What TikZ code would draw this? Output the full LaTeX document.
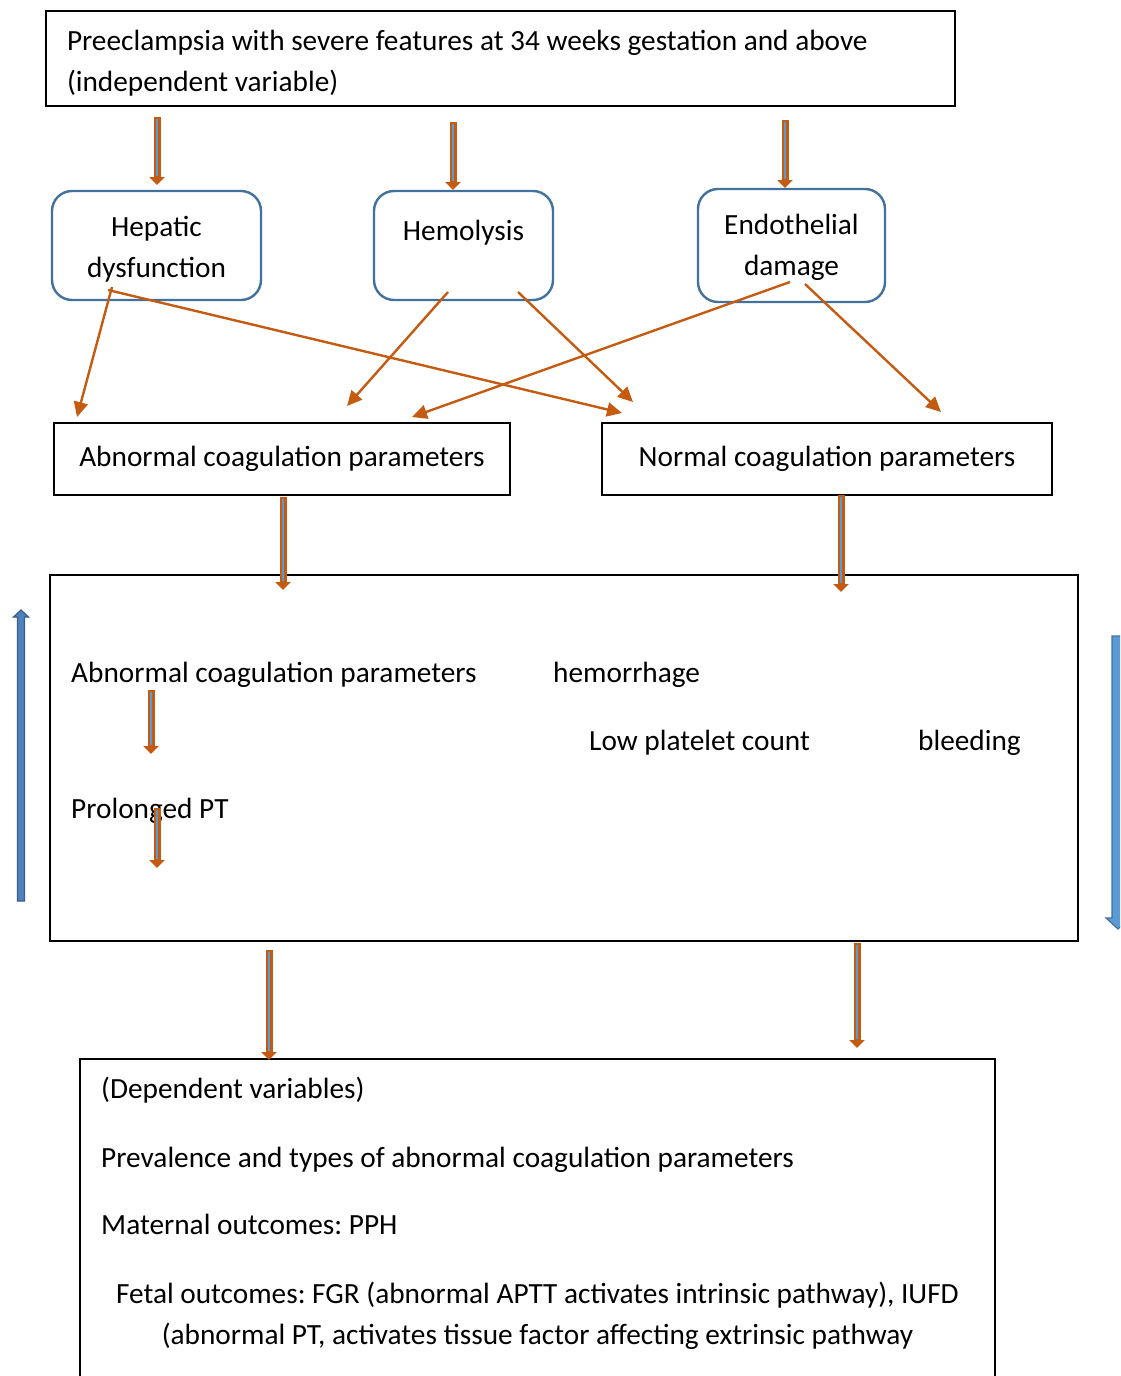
\documentclass[tikz,border=0pt]{standalone}
\usepackage{fontspec}
\setmainfont{Carlito}
\usetikzlibrary{arrows.meta, positioning, calc}

\definecolor{arrorange}{HTML}{C55A11}
\definecolor{boxblue}{HTML}{41719C}
\definecolor{innerblue}{HTML}{5B9BD5}
\definecolor{sideblue}{HTML}{4F81BD}
\definecolor{sideedge}{HTML}{385D8A}

\newcommand{\diagfont}{\fontsize{29.3}{41}\selectfont\frenchspacing}

\begin{document}
\begin{tikzpicture}[
  x=1pt, y=-1pt,
  font=\diagfont,
  sqbox/.style={rectangle, draw, line width=2.6pt, inner sep=0pt, outer sep=0pt},
  rbox/.style={rectangle, draw=boxblue, line width=2.4pt, rounded corners=20pt,
               align=center, inner sep=0pt, outer sep=0pt},
  txt/.style={inner sep=0pt, anchor=base west},
  arr/.style={-{Triangle[length=15pt,width=14pt]}, draw=arrorange, line width=2.4pt},
  dblarr/.style={-{Triangle[length=8pt,width=15pt]}, draw=arrorange, line width=7pt,
                 postaction={draw=innerblue, line width=2.6pt, -, shorten >=9pt, shorten <=1.5pt}},
  sidearr/.style={fill=sideblue, draw=sideedge, line width=1.2pt},
  node distance=1.0cm and 1.8cm
]
  \path[use as bounding box, clip] (0,0) rectangle (1120,1376);

  % Independent variable (top)
  \node[sqbox, minimum width=909pt, minimum height=95pt, text width=867pt, text height=30pt, align=flush left]
    (indep) at (500.5,58.5) {Preeclampsia with severe features at 34 weeks gestation and above\\(independent variable)};

  % Mechanisms (rounded row)
  \node[rbox, minimum width=209pt, minimum height=109pt, text height=69pt, text depth=6pt] (hep) at (156.5,245.5) {Hepatic\\dysfunction};
  \node[rbox, minimum width=179pt, minimum height=109pt, text depth=30pt, right=113pt of hep] (hemo) {Hemolysis};
  \node[rbox, minimum width=187pt, minimum height=113pt, text height=65pt, text depth=6pt, right=145pt of hemo] (endo) {Endothelial\\damage};

  % Coagulation parameters
  \node[sqbox, minimum width=456pt, minimum height=72pt] (abn) at (282,459) {Abnormal coagulation parameters};
  \node[sqbox, minimum width=450pt, minimum height=72pt, right=92pt of abn] (nrm) {Normal coagulation parameters};

  % Middle box
  \node[sqbox, minimum width=1028pt, minimum height=366pt] (mid) at (564,758) {};
  \node[txt] (abnlbl) at (71,682)  {Abnormal coagulation parameters};
  \node[txt] (hemlbl) at (553,682) {hemorrhage};
  \node[txt] (plt)    at (589,750) {Low platelet count};
  \node[txt] (bld)    at (918,750) {bleeding};
  \node[txt] (ptlbl)  at (71,818)  {Prolonged PT};
  \coordinate (ptend) at (157,868);

  % Dependent variables (bottom)
  \node[sqbox, minimum width=915pt, minimum height=380pt, anchor=north] (dep) at (537.5,1059) {};
  \node[txt] (dvar) at (101,1098) {(Dependent variables)};
  \node[txt] (prev) at (101,1167) {Prevalence and types of abnormal coagulation parameters};
  \node[txt] (mat)  at (101,1234) {Maternal outcomes: PPH};
  \node[align=center, inner sep=0pt] (fetal) at (537.5,1316) {Fetal outcomes: FGR (abnormal APTT activates intrinsic pathway), IUFD\\(abnormal PT, activates tissue factor affecting extrinsic pathway};

  % Block arrows
  \draw[dblarr] ($(indep.south -| hep.north)+(0.5,11)$) -- ($(hep.north)+(0.5,-6)$);
  \draw[dblarr] ($(indep.south -| hemo.north)+(-10.5,16)$) -- ($(hemo.north)+(-10.5,-1)$);
  \draw[dblarr] ($(indep.south -| endo.north)+(-6.5,14)$) -- ($(endo.north)+(-6.5,-1)$);
  \draw[dblarr] ($(abn.south)+(1,2)$) -- ($(abn.south |- mid.north)+(1,15)$);
  \draw[dblarr] ($(nrm.south)+(14,0)$) -- ($(nrm.south |- mid.north)+(14,17)$);
  \draw[dblarr] ($(abnlbl.base west)+(80,8)$) -- ($(ptlbl.base west)+(80,-64)$);
  \draw[dblarr] ($(ptlbl.base west)+(86,-10)$) -- (ptend);
  \draw[dblarr] ($(mid.south -| abn.south)+(-13,9)$) -- ($(dep.north -| abn.south)+(-13,1)$);
  \draw[dblarr] ($(mid.south -| nrm.south)+(30,2)$) -- ($(dep.north -| nrm.south)+(30,-11)$);

  % Mechanism -> parameters
  \draw[arr] ($(hep.south)+(-44.5,-13)$) -- ($(abn.north west)+(23,-6)$);
  \draw[arr] ($(hep.south)+(-48.5,-10)$) -- ($(nrm.north west)+(20,-10)$);
  \draw[arr] ($(hemo.south)+(-15.5,-8)$) -- ($(abn.north)+(65,-17)$);
  \draw[arr] ($(hemo.south)+(54.5,-8)$)  -- ($(nrm.north west)+(31,-21)$);
  \draw[arr] ($(endo.south)+(-1.5,-20)$) -- ($(abn.north)+(130,-6)$);
  \draw[arr] ($(endo.south)+(13.5,-18)$) -- ($(nrm.north)+(114,-11)$);

  % Side arrows
  \draw[sidearr] (17.5,901) -- (17.5,617) -- (13.5,617) -- (21,610) -- (28.5,617) -- (24.5,617) -- (24.5,901) -- cycle;
  \draw[sidearr, fill=innerblue, draw=boxblue] (1112,636) -- (1112,918) -- (1106,918) -- (1118,929) -- (1130,918) -- (1124,918) -- (1124,636) -- cycle;
\end{tikzpicture}
\end{document}
